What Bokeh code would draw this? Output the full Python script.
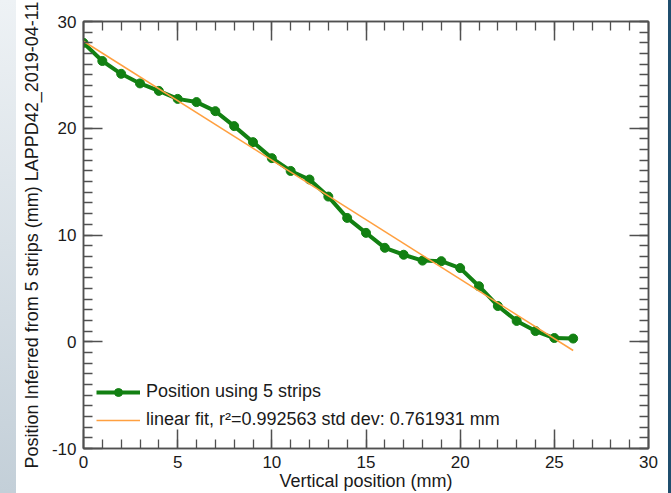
from bokeh.plotting import figure
from bokeh.models import (Range1d, LinearAxis, SingleIntervalTicker, Legend, LegendItem, Div,
                          CustomJSTickFormatter)
from bokeh.layouts import row
from bokeh.embed import file_html
from bokeh.resources import INLINE

# data
vert_pos = [0, 1, 2, 3, 4, 5, 6, 7, 8, 9, 10, 11, 12, 13, 14, 15, 16, 17, 18, 19, 20, 21, 22, 23, 24, 25, 26]
inferred_pos = [28.0, 26.3, 25.1, 24.2, 23.5, 22.75, 22.45, 21.6, 20.2, 18.7, 17.2, 16.0, 15.2, 13.6, 11.6,
                10.2, 8.8, 8.15, 7.6, 7.55, 6.9, 5.2, 3.35, 1.95, 1.0, 0.35, 0.3]
fit_x = [0, 26]
fit_y = [28.15, -0.82]
series_label = "Position using 5 strips"
fit_label = "linear fit, r\u00b2=0.992563 std dev: 0.761931 mm"
x_title = "Vertical position (mm)"
y_title = "Position Inferred from 5 strips (mm) LAPPD42_2019-04-11"

FONT = "Liberation Sans"
GREEN = "#128012"
ORANGE = "#ffa040"
AXC = "#505050"

p = figure(width=652, height=493, output_backend="svg", toolbar_location=None,
           x_range=Range1d(0, 30), y_range=Range1d(-10, 30),
           min_border_left=67, min_border_right=20, min_border_top=21, min_border_bottom=42,
           background_fill_color="white", border_fill_color="white")
p.xgrid.visible = False
p.ygrid.visible = False
p.outline_line_color = AXC
p.outline_line_width = 1.5

xt = SingleIntervalTicker(interval=5, num_minor_ticks=5)
yt = SingleIntervalTicker(interval=10, num_minor_ticks=10)
plain_fmt = CustomJSTickFormatter(code="return String(tick).replace('\u2212', '-');")
blank_fmt = CustomJSTickFormatter(code="return '';")

def style(ax, labels=True):
    ax.axis_line_color = AXC
    ax.axis_line_width = 1.5
    ax.major_tick_line_color = AXC
    ax.minor_tick_line_color = AXC
    ax.major_tick_line_width = 1.5
    ax.minor_tick_line_width = 1.3
    ax.major_tick_in = 19
    ax.major_tick_out = 0
    ax.minor_tick_in = 9
    ax.minor_tick_out = 0
    if labels:
        ax.formatter = plain_fmt
        ax.major_label_text_font = FONT
        ax.major_label_text_font_size = "17px"
        ax.major_label_text_color = "#1a1a1a"
        ax.axis_label_text_font = FONT
        ax.axis_label_text_font_size = "18px"
        ax.axis_label_text_font_style = "normal"
        ax.axis_label_text_color = "#1a1a1a"
    else:
        ax.formatter = blank_fmt
        ax.major_label_standoff = 0

p.xaxis.ticker = xt
p.yaxis.ticker = yt
style(p.xaxis[0])
style(p.yaxis[0])
p.xaxis.axis_label = x_title
p.yaxis.axis_label = y_title
p.xaxis.major_label_standoff = 7
p.xaxis.axis_label_standoff = 0
p.yaxis.major_label_standoff = 7
p.yaxis.axis_label_standoff = 7

top_ax = LinearAxis(ticker=xt)
style(top_ax, labels=False)
p.add_layout(top_ax, "above")
right_ax = LinearAxis(ticker=yt)
style(right_ax, labels=False)
p.add_layout(right_ax, "right")

r_line = p.line(vert_pos, inferred_pos, line_color=GREEN, line_width=4)
r_pts = p.scatter(vert_pos, inferred_pos, size=9, fill_color=GREEN, line_color=GREEN)
r_fit = p.line(fit_x, fit_y, line_color=ORANGE, line_width=1.5)

legend = Legend(items=[LegendItem(label=series_label, renderers=[r_line, r_pts]),
                       LegendItem(label=fit_label, renderers=[r_fit])],
                location=(13, 18), glyph_width=44, glyph_height=20, label_height=20,
                spacing=7, padding=0, margin=0, label_standoff=6,
                border_line_color=None, background_fill_alpha=0,
                label_text_font=FONT, label_text_font_size="18px", label_text_color="#1a1a1a")
p.add_layout(legend)

left_strip = Div(width=16, height=493, text="",
                 styles={"background": "linear-gradient(to bottom, #eef2f5, #c3cfd8)",
                         "margin": "0", "padding": "0"})
right_strip = Div(width=3, height=493, text="",
                  styles={"background": "#1f4d6d", "margin": "0", "padding": "0"})

layout = row(left_strip, p, right_strip, spacing=0)

open("out.html", "w").write(file_html(layout, INLINE))
